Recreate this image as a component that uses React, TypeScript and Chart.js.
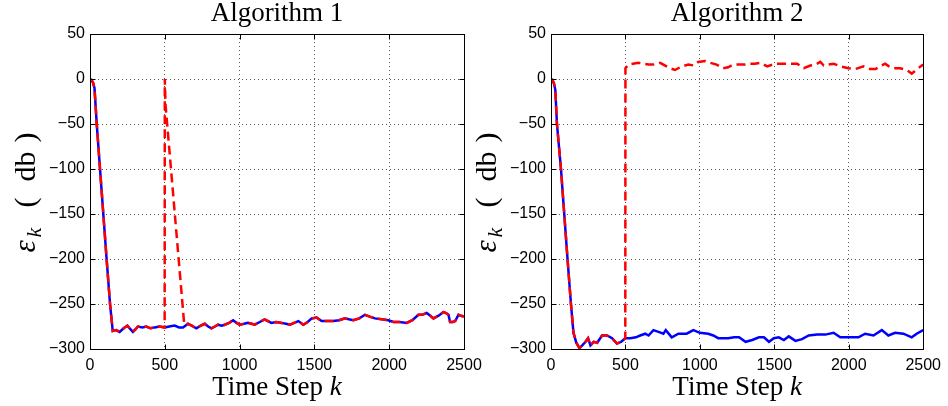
import React, { useEffect, useRef } from "react";
import { Chart, registerables } from "chart.js";
Chart.register(...registerables);

// ---------- data ----------
const X_MIN = 0;
const X_MAX = 2500;
const X_STEP = 500;
const Y_MIN = -300;
const Y_MAX = 50;
const Y_STEP = 50;
const TITLES = ["Algorithm 1", "Algorithm 2"];
const X_LABEL = "Time Step ";
const X_LABEL_VAR = "k";

// Algorithm 1 - blue (solid)
const A1_BLUE_K = [0, 10, 20, 30, 45, 67, 89, 111, 134, 152,
  175, 198, 225, 250, 270, 287, 305, 320, 350, 376,
  405, 432, 465, 499, 530, 566, 595, 622, 655, 680,
  711, 740, 767, 790, 812, 835, 856, 880, 901, 930,
  957, 980, 1001, 1030, 1056, 1080, 1101, 1135, 1167, 1190,
  1212, 1245, 1281, 1310, 1337, 1365, 1393, 1426, 1455, 1482,
  1515, 1548, 1590, 1626, 1665, 1704, 1730, 1760, 1800, 1838,
  1870, 1905, 1950, 1994, 2028, 2070, 2117, 2155, 2195, 2220,
  2251, 2275, 2296, 2330, 2362, 2380, 2396, 2407, 2425, 2441,
  2463, 2480, 2500];
const A1_BLUE_V = [0, -1, -4, -10, -50, -100, -150, -200, -250, -280,
  -279, -281, -277, -274, -278, -281, -278, -275, -276, -275,
  -277, -276, -275, -276, -275, -274, -276, -276, -272, -274,
  -277, -274, -272, -275, -277, -275, -273, -274, -273, -271,
  -268, -271, -273, -272, -271, -272, -273, -270, -267, -269,
  -271, -270, -271, -272, -273, -271, -269, -273, -270, -266,
  -265, -269, -269, -269, -268, -266, -267, -268, -266, -262,
  -264, -266, -267, -268, -270, -270, -271, -268, -262, -262,
  -260, -263, -266, -263, -259, -260, -262, -270, -270, -269,
  -262, -263, -264];

// Algorithm 1 - red (dashed): identical to blue except the restart at k = 500
const A1_RED_SPIKE_K = [500, 505, 630];
const A1_RED_SPIKE_V = [0, -29, -273];
const A1_RED_SPIKE_FROM = 500;
const A1_RED_SPIKE_TO = 650;

// Algorithm 2 - blue (solid)
const A2_BLUE_K = [0, 10, 20, 29, 40, 67, 89, 111, 134, 151,
  170, 191, 210, 232, 249, 265, 287, 310, 343, 377,
  410, 443, 472, 499, 532, 570, 599, 633, 655, 688,
  722, 755, 771, 811, 856, 911, 956, 1000, 1056, 1090,
  1123, 1190, 1230, 1263, 1307, 1352, 1397, 1430, 1464, 1497,
  1530, 1564, 1597, 1642, 1686, 1731, 1787, 1843, 1898, 1943,
  1998, 2065, 2110, 2166, 2222, 2266, 2311, 2367, 2423, 2456,
  2500];
const A2_BLUE_V = [0, -1, -5, -12, -50, -100, -150, -200, -250, -282,
  -293, -299, -296, -292, -288, -296, -292, -293, -285, -285,
  -288, -294, -292, -288, -288, -287, -285, -283, -285, -279,
  -281, -283, -279, -287, -283, -283, -279, -282, -283, -285,
  -288, -288, -287, -287, -292, -290, -287, -287, -292, -288,
  -287, -290, -286, -291, -289, -285, -284, -284, -282, -287,
  -287, -287, -283, -285, -279, -285, -282, -283, -287, -283,
  -279];

// Algorithm 2 - red (dashed): follows blue until k = 500, then jumps up
const A2_RED_SWITCH = 500;
const A2_RED_TOP_K = [500, 521, 550, 588, 622, 655, 688, 733, 755, 800,
  833, 878, 922, 960, 989, 1034, 1070, 1112, 1156, 1190,
  1223, 1263, 1300, 1330, 1370, 1408, 1452, 1508, 1542, 1575,
  1609, 1653, 1698, 1742, 1775, 1809, 1832, 1865, 1898, 1943,
  1998, 2043, 2099, 2143, 2180, 2210, 2244, 2270, 2299, 2344,
  2389, 2423, 2467, 2500];
const A2_RED_TOP_V = [12, 16, 17, 18, 17, 16, 16, 18, 16, 12,
  10, 14, 16, 15, 19, 20, 18, 16, 12, 13,
  16, 16, 16, 17, 17, 18, 14, 17, 17, 17,
  17, 17, 12, 15, 16, 19, 15, 16, 17, 14,
  12, 11, 14, 11, 11, 14, 17, 14, 12, 12,
  10, 6, 12, 16];

// ---------- helpers ----------
type Pt = { x: number; y: number };
const zip = (k: number[], v: number[]): Pt[] => k.map((x, i) => ({ x, y: v[i] }));

const a1Blue = zip(A1_BLUE_K, A1_BLUE_V);
const a1Red = [
  ...a1Blue.filter((p) => p.x < A1_RED_SPIKE_FROM),
  ...zip(A1_RED_SPIKE_K, A1_RED_SPIKE_V),
  ...a1Blue.filter((p) => p.x > A1_RED_SPIKE_TO),
];
const a2Blue = zip(A2_BLUE_K, A2_BLUE_V);
const a2Red = [
  ...a2Blue.filter((p) => p.x < A2_RED_SWITCH),
  ...zip(A2_RED_TOP_K, A2_RED_TOP_V),
];

const SERIF = '"Liberation Serif", "Times New Roman", serif';
const SANS = '"Liberation Sans", Arial, Helvetica, sans-serif';

function fmtTick(v: number) {
  return v < 0 ? "\u2212" + Math.abs(v) : String(v);
}

function makePlugin(title: string) {
  return {
    id: "frame",
    afterDraw(chart: any) {
      const { ctx, chartArea: a, scales } = chart;
      ctx.save();
      // frame
      ctx.strokeStyle = "#000";
      ctx.lineWidth = 1;
      ctx.setLineDash([]);
      const L = Math.round(a.left) + 0.5;
      const R = Math.round(a.right) + 0.5;
      const T = Math.round(a.top) + 0.5;
      const B = Math.round(a.bottom) + 0.5;
      ctx.strokeRect(L, T, R - L, B - T);
      // inward ticks
      const tl = 5;
      ctx.beginPath();
      scales.y.ticks.forEach((t: any) => {
        const py = Math.round(scales.y.getPixelForValue(t.value)) + 0.5;
        ctx.moveTo(L, py); ctx.lineTo(L + tl, py);
        ctx.moveTo(R, py); ctx.lineTo(R - tl, py);
      });
      scales.x.ticks.forEach((t: any) => {
        const px = Math.round(scales.x.getPixelForValue(t.value)) + 0.5;
        ctx.moveTo(px, B); ctx.lineTo(px, B - tl);
        ctx.moveTo(px, T); ctx.lineTo(px, T + tl);
      });
      ctx.stroke();

      const cx = (a.left + a.right) / 2;
      const cy = (a.top + a.bottom) / 2;
      ctx.fillStyle = "#000";
      // title
      ctx.font = `27px ${SERIF}`;
      ctx.textAlign = "center";
      ctx.textBaseline = "alphabetic";
      ctx.fillText(title, cx, 21);

      // x label
      ctx.textAlign = "left";
      ctx.font = `27px ${SERIF}`;
      const w1 = ctx.measureText(X_LABEL).width;
      ctx.font = `italic 27px ${SERIF}`;
      const w2 = ctx.measureText(X_LABEL_VAR).width;
      const sx = cx - (w1 + w2) / 2;
      ctx.font = `27px ${SERIF}`;
      ctx.fillText(X_LABEL, sx, 395);
      ctx.font = `italic 27px ${SERIF}`;
      ctx.fillText(X_LABEL_VAR, sx + w1, 395);

      // y label (rotated)
      ctx.save();
      ctx.translate(a.left - 55, cy);
      ctx.rotate(-Math.PI / 2);
      ctx.textAlign = "left";
      const u0 = -61;
      ctx.font = `italic 31px ${SERIF}`;
      ctx.fillText("\u03b5", u0, 0);
      ctx.font = `italic 22px ${SERIF}`;
      ctx.fillText("k", u0 + 15, 6);
      ctx.font = `30px ${SERIF}`;
      ctx.fillText("(", u0 + 45, 0);
      ctx.fillText("db", u0 + 71, 0);
      ctx.fillText(")", u0 + 110, 0);
      ctx.restore();

      ctx.restore();
    },
  };
}

type PanelProps = {
  left: number;
  width: number;
  plotLeft: number;
  plotRight: number;
  title: string;
  red: Pt[];
  blue: Pt[];
};

function Panel({ left, width, plotLeft, plotRight, title, red, blue }: PanelProps) {
  const ref = useRef<HTMLCanvasElement>(null);
  useEffect(() => {
    if (!ref.current) return;
    const chart = new Chart(ref.current, {
      type: "line",
      data: {
        datasets: [
          {
            data: red,
            borderColor: "#ff0000",
            borderWidth: 2.5,
            borderDash: [9, 5],
            pointRadius: 0,
            tension: 0,
            fill: false,
          },
          {
            data: blue,
            borderColor: "#0000ff",
            borderWidth: 2.5,
            pointRadius: 0,
            tension: 0,
            fill: false,
          },
        ],
      },
      options: {
        animation: false,
        responsive: false,
        maintainAspectRatio: false,
        devicePixelRatio: 1,
        layout: { padding: { top: 34, left: 0, right: width - plotRight, bottom: 0 } },
        plugins: {
          legend: { display: false },
          tooltip: { enabled: false },
          title: { display: false },
        },
        events: [],
        scales: {
          x: {
            type: "linear",
            min: X_MIN,
            max: X_MAX,
            afterFit: (s: any) => { s.height = 57; },
            ticks: {
              stepSize: X_STEP,
              autoSkip: false,
              maxRotation: 0,
              padding: 7,
              color: "#000",
              font: { family: SANS, size: 16 },
              callback: (v: any) => fmtTick(Number(v)),
            },
            grid: { color: "#555", lineWidth: 1, drawTicks: false },
            border: { display: false, dash: [1, 3] },
          },
          y: {
            type: "linear",
            min: Y_MIN,
            max: Y_MAX,
            afterFit: (s: any) => { s.width = plotLeft; },
            ticks: {
              stepSize: Y_STEP,
              autoSkip: false,
              padding: 5,
              color: "#000",
              font: { family: SANS, size: 16 },
              callback: (v: any) => fmtTick(Number(v)),
            },
            grid: { color: "#555", lineWidth: 1, drawTicks: false },
            border: { display: false, dash: [1, 3] },
          },
        },
      },
      plugins: [makePlugin(title)],
    } as any);
    return () => chart.destroy();
  }, []);
  return (
    <canvas
      ref={ref}
      width={width}
      height={406}
      style={{ position: "absolute", left, top: 0, width, height: 406 }}
    />
  );
}

export default function App() {
  return (
    <div style={{ position: "fixed", left: 0, top: 0, width: 948, height: 406, background: "#fff", overflow: "hidden" }}>
      <Panel left={0} width={520} plotLeft={90} plotRight={464} title={TITLES[0]} red={a1Red} blue={a1Blue} />
      <Panel left={474} width={474} plotLeft={77} plotRight={451} title={TITLES[1]} red={a2Red} blue={a2Blue} />
    </div>
  );
}
